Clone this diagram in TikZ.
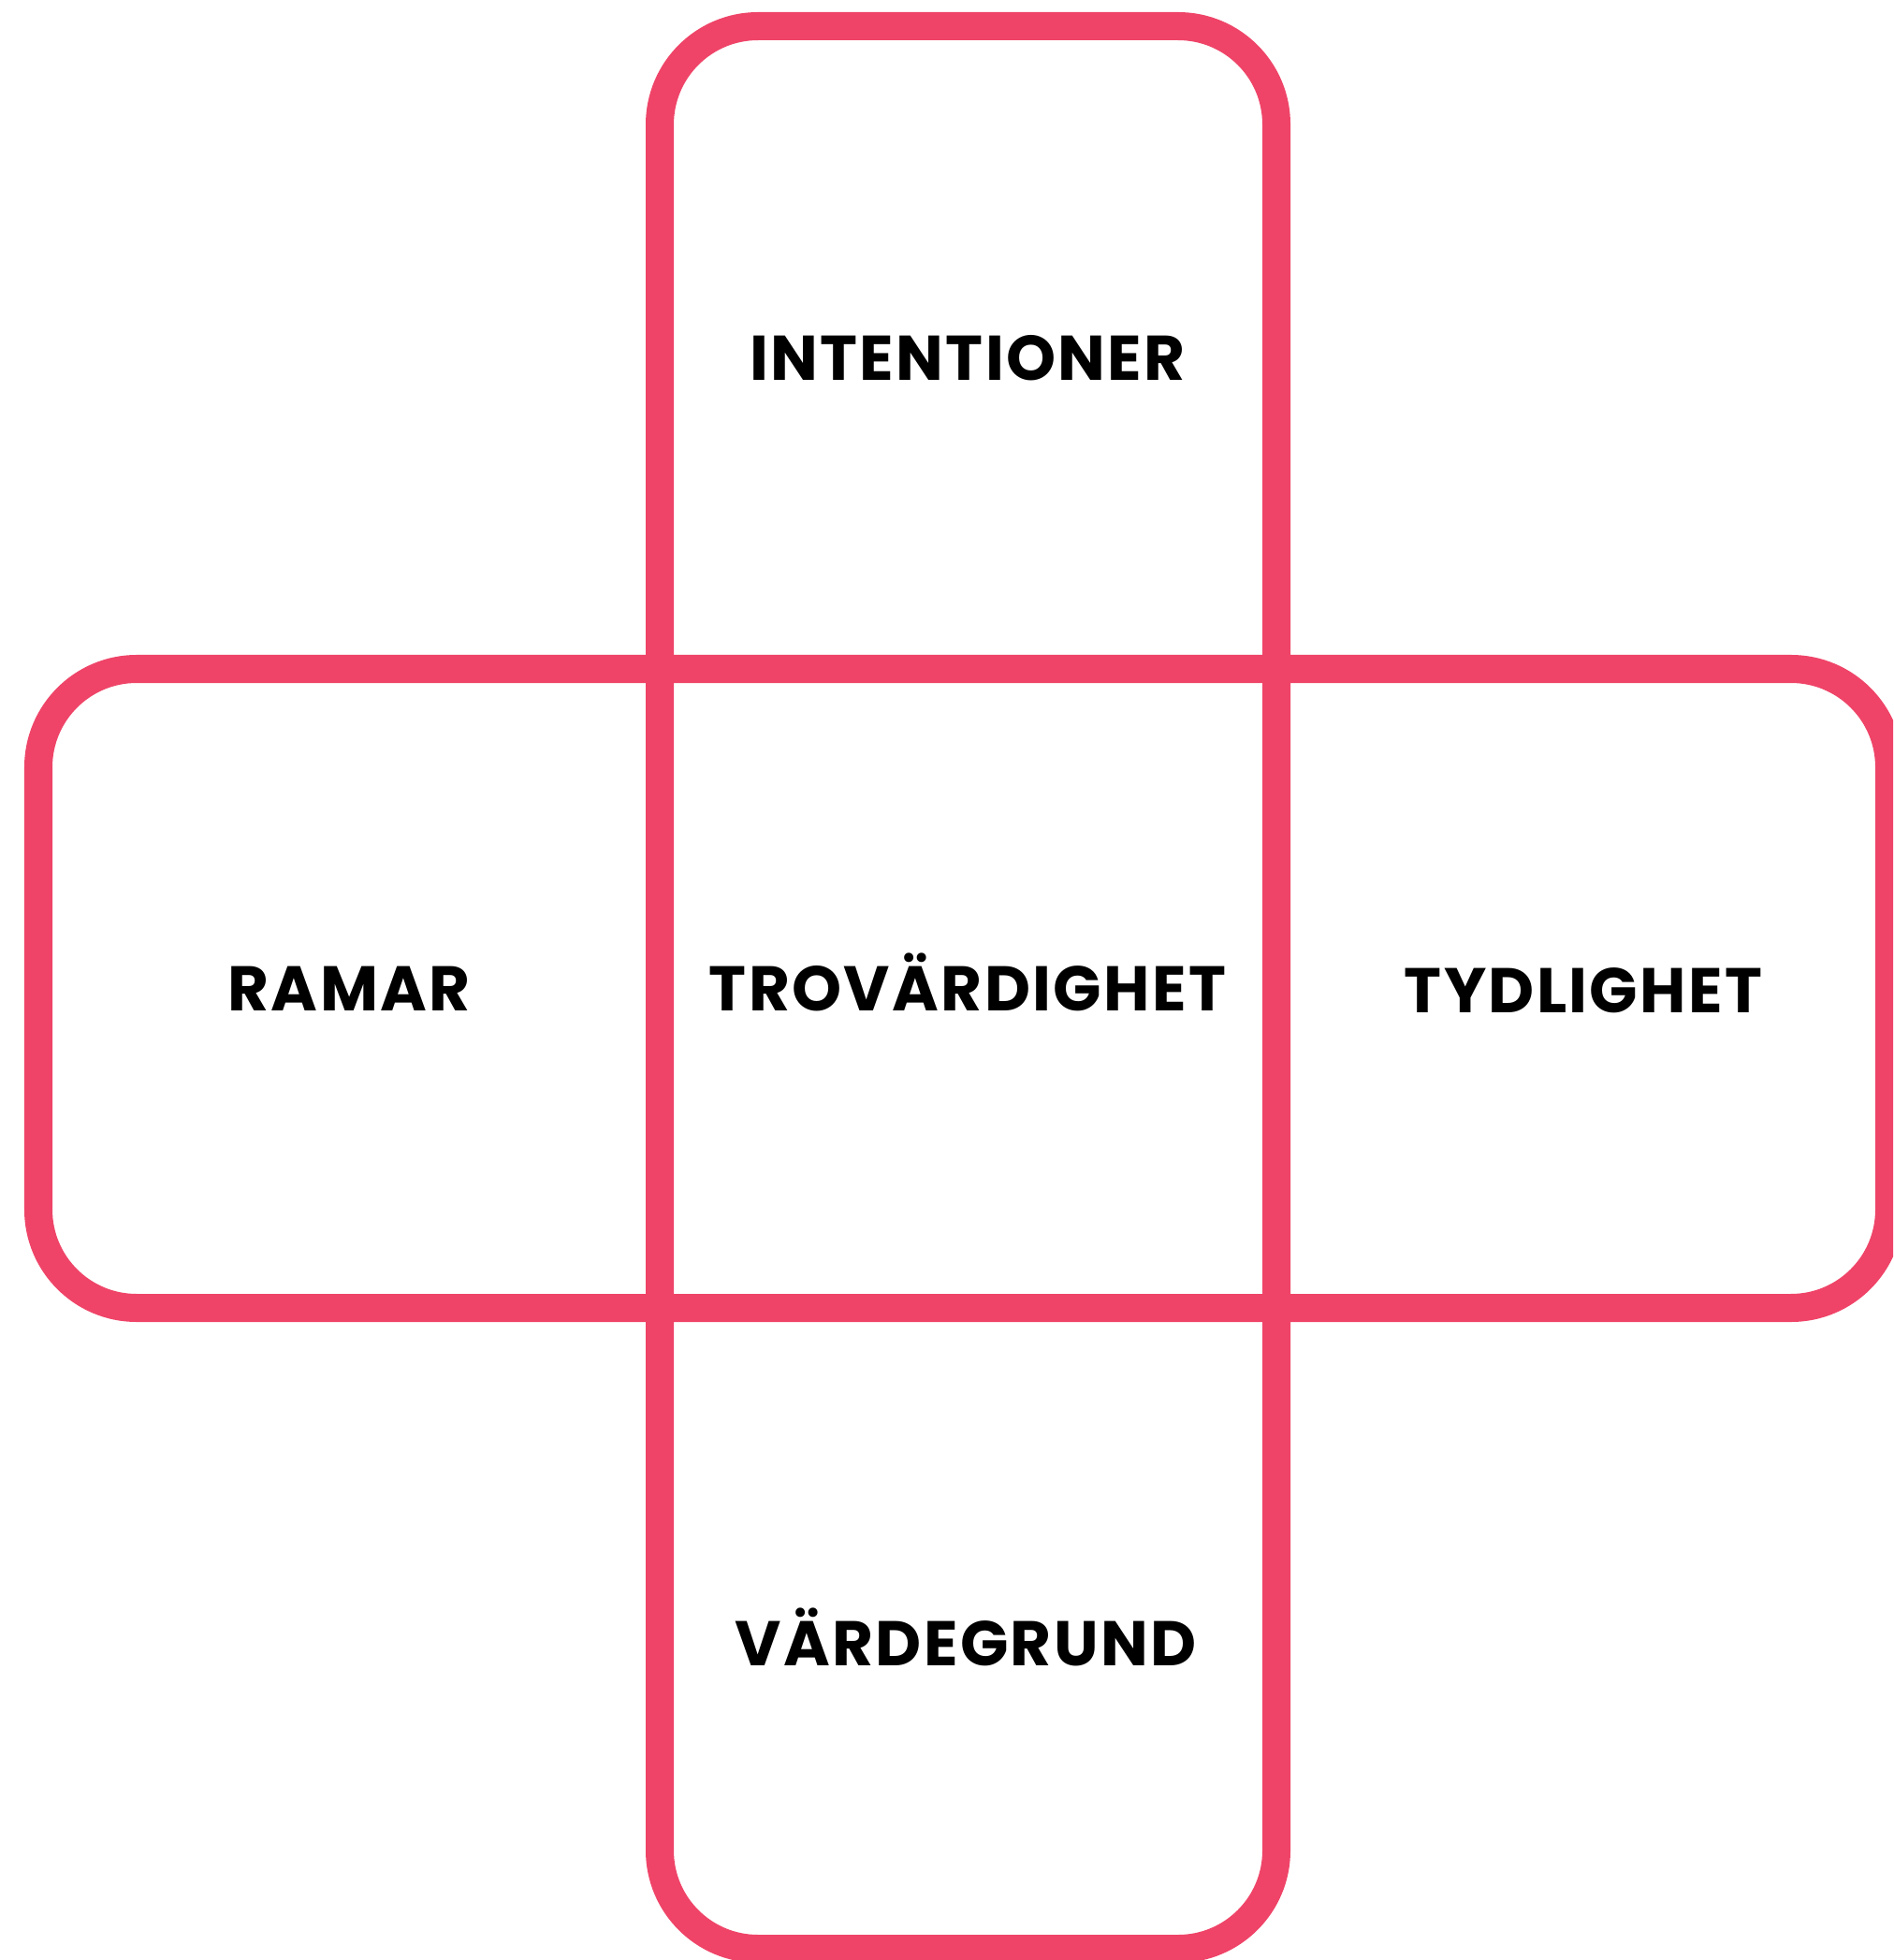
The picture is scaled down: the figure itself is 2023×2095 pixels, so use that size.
\documentclass[tikz,border=0pt]{standalone}
\usepackage{fontspec}
\setmainfont{Poppins}[LetterSpace=3.5]
\definecolor{crossred}{RGB}{239,68,104}
\begin{document}
\begin{tikzpicture}[x=0.01cm,y=-0.01cm,
  frame/.style={draw=crossred,line width=0.30cm,rounded corners=1.05cm},
  lab/.style={font=\fontsize{19.2pt}{22pt}\selectfont\bfseries,text=black,anchor=base,inner sep=0pt}]
\useasboundingbox (0,0) rectangle (2023,2095);
\clip (0,0) rectangle (2023,2095);
% horizontal bar
\draw[frame] (41,715) rectangle (2019,1398);
% vertical bar
\draw[frame] (705,28) rectangle (1364,2083);
% labels
\node[lab] (intentioner) at (1034,407) {INTENTIONER};
\node[lab] (ramar) at (373,1080) {RAMAR};
\node[lab] (trovardighet) at (1034,1080) {TROVÄRDIGHET};
\node[lab] (tydlighet) at (1692,1082) {TYDLIGHET};
\node[lab] (vardegrund) at (1032,1780) {VÄRDEGRUND};
\end{tikzpicture}
\end{document}
